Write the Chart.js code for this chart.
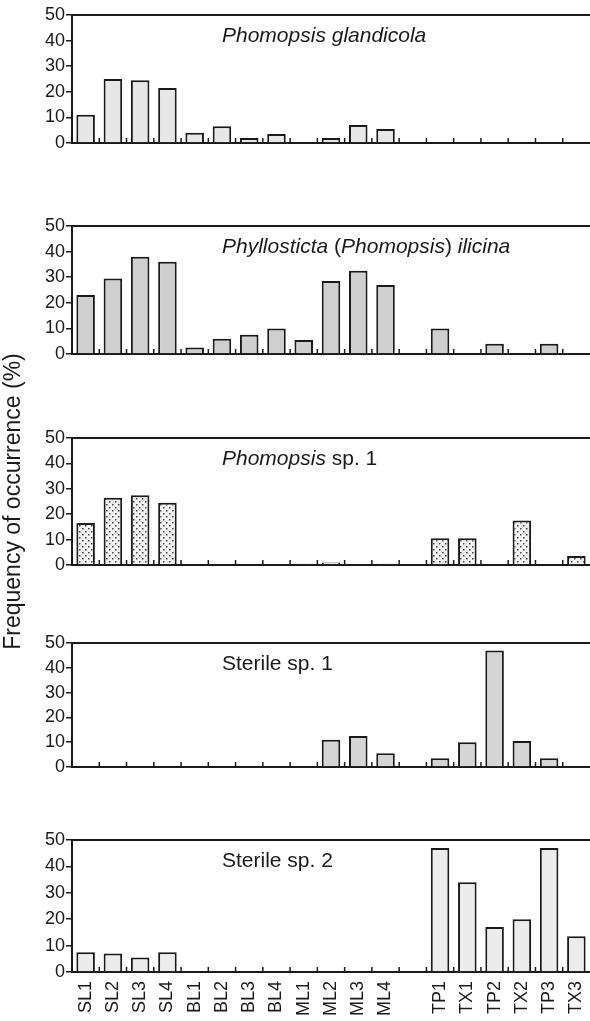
<!DOCTYPE html>
<html>
<head>
<meta charset="utf-8">
<script src="https://cdn.jsdelivr.net/npm/chart.js@4.4.1/dist/chart.umd.min.js"></script>
<style>
  html, body { margin: 0; padding: 0; background: #fff; }
  body { width: 590px; height: 1021px; position: relative; overflow: hidden; }
  canvas { position: absolute; left: 0; }
</style>
</head>
<body>
<canvas id="p1"></canvas>
<canvas id="p2"></canvas>
<canvas id="p3"></canvas>
<canvas id="p4"></canvas>
<canvas id="p5"></canvas>
<script>
// sites (the empty one is the gap between leaves and twigs)
const sites = ['SL1','SL2','SL3','SL4','BL1','BL2','BL3','BL4','ML1','ML2','ML3','ML4','','TP1','TX1','TP2','TX2','TP3','TX3'];
const yTicks = [0, 10, 20, 30, 40, 50];

// frequency of occurrence (%)
const glandicola = [11, 25, 24.5, 21.5, 4, 6.5, 2, 3.5, 0, 2, 7, 5.5, null, 0, 0, 0, 0, 0, 0];
const ilicina    = [23, 29.5, 38, 36, 2.5, 6, 7.5, 10, 5.5, 28.5, 32.5, 27, null, 10, 0, 4, 0, 4, 0];
const phomopsis1 = [16.5, 26.5, 27.5, 24.5, 0, 0, 0, 0, 0.5, 1, 0, 0.5, null, 10.5, 10.5, 0, 17.5, 0, 3.5];
const sterile1   = [0, 0, 0, 0, 0, 0, 0, 0, 0, 11, 12.5, 5.5, null, 3.5, 10, 47, 10.5, 3.5, 0];
const sterile2   = [7.5, 7, 5.5, 7.5, 0, 0, 0, 0, 0, 0, 0, 0, null, 47, 34, 17, 20, 47, 13.5];

// panel titles as [text, italic] pieces
const titles = [
  [['Phomopsis glandicola', true]],
  [['Phyllosticta', true], [' (', false], ['Phomopsis', true], [') ', false], ['ilicina', true]],
  [['Phomopsis', true], [' sp. 1', false]],
  [['Sterile sp. 1', false]],
  [['Sterile sp. 2', false]]
];

const FONT = '"Liberation Sans", Arial, Helvetica, sans-serif';
const INK = '#1a1a1a';
Chart.defaults.font.family = FONT;
Chart.defaults.color = INK;

function dotPattern() {
  const c = document.createElement('canvas');
  c.width = 6; c.height = 6;
  const g = c.getContext('2d');
  g.fillStyle = '#f3f3f3';
  g.fillRect(0, 0, 6, 6);
  g.fillStyle = '#444';
  g.fillRect(1, 1, 1.5, 1.5);
  g.fillRect(4, 4, 1.5, 1.5);
  return g.createPattern(c, 'repeat');
}

// top frame, inward ticks between categories and the panel title
const panelDecor = {
  id: 'panelDecor',
  afterDraw(chart, args, opts) {
    const { ctx, chartArea: a, scales: { x } } = chart;
    ctx.save();
    ctx.strokeStyle = INK;
    ctx.lineWidth = 2;
    ctx.beginPath();
    ctx.moveTo(a.left, a.top);
    ctx.lineTo(a.right, a.top);
    ctx.stroke();

    ctx.lineWidth = 1.5;
    for (let i = 1; i < x.ticks.length; i++) {
      const px = (x.getPixelForValue(i - 1) + x.getPixelForValue(i)) / 2;
      ctx.beginPath();
      ctx.moveTo(px, a.bottom);
      ctx.lineTo(px, a.bottom - 5);
      ctx.stroke();
    }

    let tx = a.left + 150;
    ctx.fillStyle = INK;
    ctx.textBaseline = 'alphabetic';
    for (const [txt, it] of opts.text) {
      ctx.font = (it ? 'italic ' : '') + '21px ' + FONT;
      ctx.fillText(txt, tx, a.top + 27);
      tx += ctx.measureText(txt).width;
    }
    ctx.restore();
  }
};

function makePanel(id, values, fill, title, top, bottom, opt) {
  const o = opt || {};
  const cv = document.getElementById(id);
  const padTop = o.padTop || 12;
  const xh = o.xh || 12;
  const last = !!o.last;
  cv.width = 590;
  cv.height = bottom - top + padTop + xh;
  cv.style.top = (top - padTop) + 'px';

  new Chart(cv, {
    type: 'bar',
    data: {
      labels: sites,
      datasets: [{
        data: values,
        backgroundColor: fill,
        borderColor: INK,
        borderWidth: 2,
        barPercentage: 0.68,
        categoryPercentage: 1
      }]
    },
    options: {
      responsive: false,
      animation: false,
      layout: { padding: { top: padTop, left: 0, right: 0, bottom: 0 } },
      plugins: {
        legend: { display: false },
        tooltip: { enabled: false },
        panelDecor: { text: title }
      },
      scales: {
        x: {
          grid: { display: false, drawTicks: false },
          border: { display: true, color: INK, width: 2 },
          ticks: {
            display: last,
            autoSkip: false,
            minRotation: 90,
            maxRotation: 90,
            padding: 9,
            font: { size: 18 }
          },
          afterFit(s) {
            s.height = xh;
            s.paddingLeft = 0;
            s.paddingRight = 0;
          }
        },
        y: {
          min: yTicks[0],
          max: yTicks[yTicks.length - 1],
          ticks: { stepSize: 10, padding: 1, font: { size: 18 } },
          grid: { display: true, drawOnChartArea: false, drawTicks: true, tickLength: 6, color: INK, lineWidth: 1.5 },
          border: { display: true, color: INK, width: 2 },
          title: {
            display: !!o.axisTitle,
            text: o.axisTitle || '',
            font: { size: 23 },
            padding: 0
          },
          afterFit(s) { s.width = 72; }
        }
      }
    },
    plugins: [panelDecor]
  });
}

makePanel('p1', glandicola, '#e7e7e7', titles[0], 15, 143);
makePanel('p2', ilicina, '#cfcfcf', titles[1], 226, 354);
makePanel('p3', phomopsis1, dotPattern(), titles[2], 438, 565,
  { padTop: 118, xh: 155, axisTitle: 'Frequency of occurrence (%)' });
makePanel('p4', sterile1, '#d5d5d5', titles[3], 643, 767);
makePanel('p5', sterile2, '#ececec', titles[4], 840, 972, { last: true, xh: 1021 - 972 });
</script>
</body>
</html>
